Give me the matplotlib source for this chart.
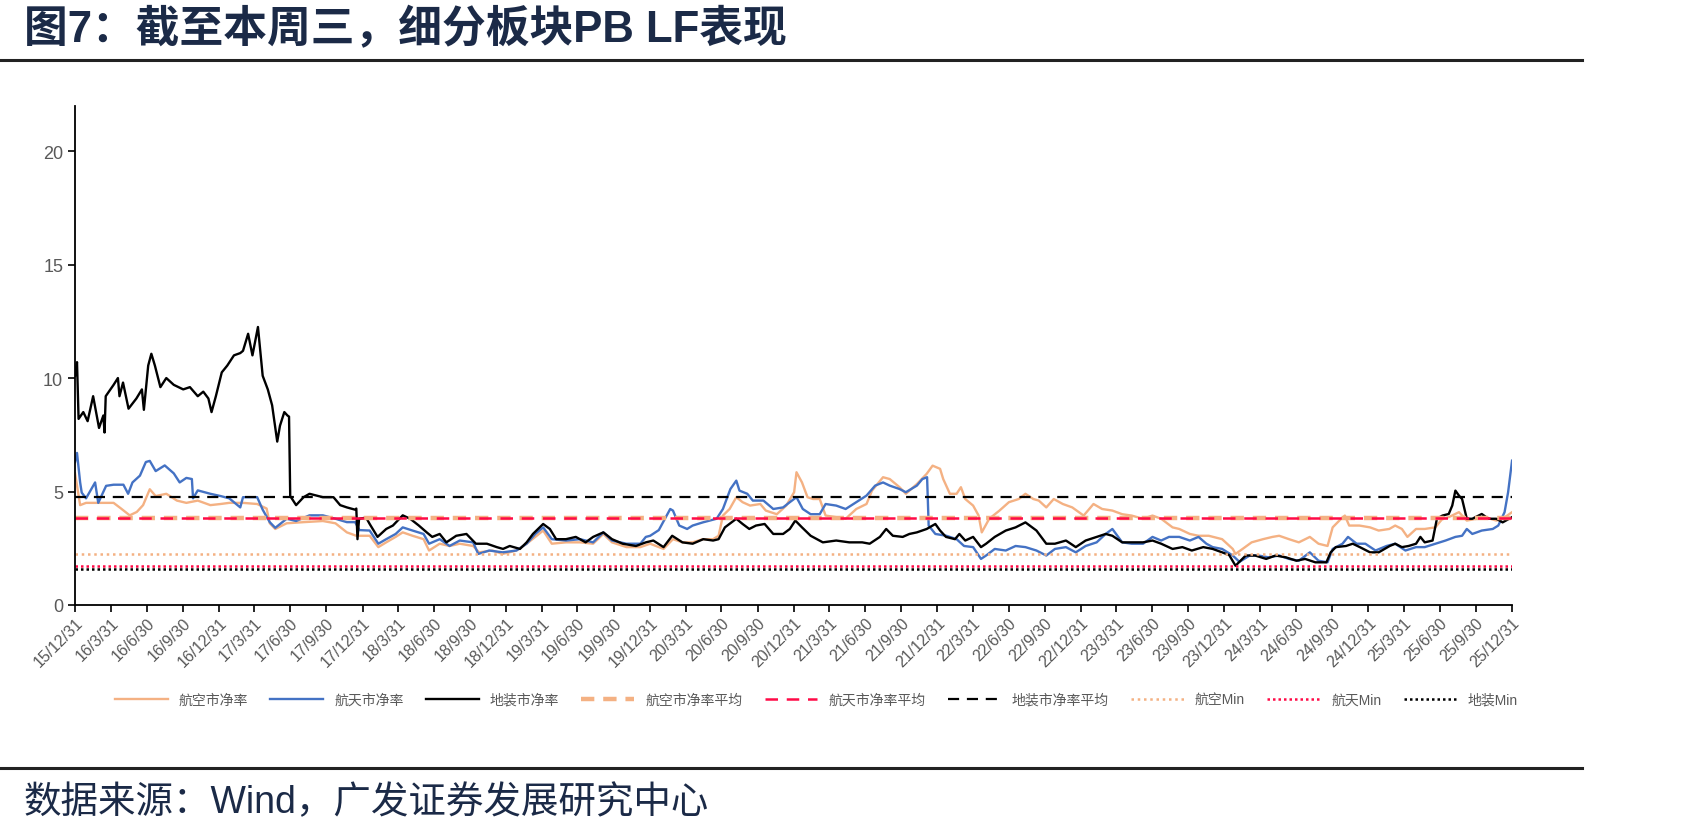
import pandas as pd
import numpy as np
import matplotlib.pyplot as plt
import matplotlib.dates as mdates

plt.rcParams['font.family'] = ['Liberation Sans', 'Noto Sans CJK SC', 'DejaVu Sans']

# ---- data ----
air_dates = ["2015-12-31", "2016-01-13", "2016-01-28", "2016-02-23", "2016-03-12", "2016-04-07", "2016-04-26",
             "2016-05-18", "2016-06-05", "2016-06-21", "2016-07-08", "2016-07-23", "2016-08-19", "2016-09-15",
             "2016-10-09", "2016-11-07", "2016-12-09", "2017-01-04", "2017-01-26", "2017-03-02", "2017-04-07",
             "2017-05-01", "2017-05-09", "2017-05-23", "2017-06-21", "2017-08-03", "2017-09-21", "2017-10-23",
             "2017-11-21", "2017-12-15", "2018-01-18", "2018-02-09", "2018-03-01", "2018-03-25", "2018-04-12",
             "2018-05-07", "2018-06-04", "2018-06-18", "2018-07-15", "2018-08-09", "2018-09-04", "2018-10-08",
             "2018-10-23", "2018-11-26", "2018-12-22", "2019-01-26", "2019-02-21", "2019-03-15", "2019-04-04",
             "2019-04-26", "2019-06-01", "2019-07-07", "2019-08-09", "2019-09-04", "2019-09-26", "2019-11-02",
             "2019-12-07", "2020-01-01", "2020-02-04", "2020-02-28", "2020-03-23", "2020-04-18", "2020-05-14",
             "2020-06-09", "2020-06-23", "2020-07-04", "2020-07-21", "2020-08-07", "2020-08-23", "2020-09-11",
             "2020-10-07", "2020-10-21", "2020-11-18", "2020-12-12", "2021-01-01", "2021-01-07", "2021-01-21",
             "2021-02-04", "2021-02-18", "2021-03-07", "2021-03-22", "2021-04-18", "2021-05-12", "2021-06-08",
             "2021-07-04", "2021-07-18", "2021-08-15", "2021-09-01", "2021-09-26", "2021-10-12", "2021-11-09",
             "2021-12-04", "2021-12-19", "2022-01-07", "2022-01-15", "2022-02-01", "2022-02-18", "2022-03-01",
             "2022-03-12", "2022-04-01", "2022-04-15", "2022-04-23", "2022-05-12", "2022-06-07", "2022-07-01",
             "2022-07-26", "2022-08-12", "2022-09-01", "2022-09-15", "2022-10-04", "2022-10-23", "2022-11-15",
             "2022-12-09", "2023-01-07", "2023-02-01", "2023-02-23", "2023-03-21", "2023-04-15", "2023-05-09",
             "2023-06-07", "2023-07-01", "2023-07-23", "2023-08-21", "2023-09-07", "2023-10-04", "2023-10-26",
             "2023-11-21", "2023-12-25", "2024-01-21", "2024-01-28", "2024-02-15", "2024-03-09", "2024-04-07",
             "2024-05-01", "2024-05-18", "2024-06-12", "2024-07-07", "2024-08-04", "2024-08-26", "2024-09-18",
             "2024-10-01", "2024-10-18", "2024-11-01", "2024-11-12", "2024-12-08", "2025-01-04", "2025-01-26",
             "2025-02-22", "2025-03-09", "2025-03-26", "2025-04-09", "2025-05-01", "2025-05-23", "2025-06-19",
             "2025-07-07", "2025-07-23", "2025-08-18", "2025-09-07", "2025-10-01", "2025-10-23", "2025-11-21",
             "2025-12-07", "2025-12-31"]
air_pb = [5.8, 4.4, 4.5, 4.5, 4.5, 4.5, 4.25, 3.95, 4.1, 4.4, 5.1, 4.8, 4.9, 4.6, 4.5, 4.6, 4.4, 4.45, 4.5, 4.5,
          4.45, 4.25, 3.6, 3.35, 3.6, 3.65, 3.7, 3.6, 3.2, 3.05, 3.05, 2.55, 2.76, 3.0, 3.2, 3.05, 2.9, 2.4, 2.7,
          2.6, 2.7, 2.6, 2.32, 2.4, 2.25, 2.4, 2.7, 3.0, 3.28, 2.7, 2.76, 2.76, 2.7, 3.13, 2.76, 2.55, 2.55, 2.7,
          2.47, 2.9, 2.76, 2.76, 2.9, 2.9, 3.05, 3.94, 4.23, 4.75, 4.53, 4.38, 4.45, 4.16, 4.0, 4.38, 4.97, 5.85,
          5.4, 4.75, 4.67, 4.67, 3.94, 3.87, 3.8, 4.23, 4.45, 5.04, 5.63, 5.55, 5.19, 4.9, 5.33, 5.78, 6.14, 6.0,
          5.55, 4.9, 4.9, 5.19, 4.67, 4.38, 3.94, 3.2, 3.8, 4.16, 4.53, 4.67, 4.9, 4.67, 4.6, 4.3, 4.67, 4.45, 4.3,
          3.94, 4.45, 4.23, 4.16, 4.0, 3.94, 3.8, 3.94, 3.8, 3.42, 3.35, 3.13, 3.05, 3.05, 2.9, 2.47, 2.25, 2.47,
          2.76, 2.9, 3.0, 3.05, 2.9, 2.76, 3.0, 2.7, 2.6, 3.42, 3.72, 3.94, 3.5, 3.5, 3.42, 3.28, 3.35, 3.5, 3.35,
          3.0, 3.35, 3.35, 3.42, 3.8, 3.87, 4.09, 3.72, 3.8, 3.87, 3.72, 3.8, 4.09]

space_dates = ["2015-12-31", "2016-01-05", "2016-01-13", "2016-01-17", "2016-01-28", "2016-02-20", "2016-02-28",
               "2016-03-19", "2016-04-07", "2016-05-02", "2016-05-14", "2016-05-25", "2016-06-13", "2016-06-28",
               "2016-07-08", "2016-07-23", "2016-08-15", "2016-09-07", "2016-09-22", "2016-10-09", "2016-10-23",
               "2016-10-26", "2016-11-07", "2016-12-09", "2017-01-04", "2017-01-26", "2017-02-23", "2017-03-02",
               "2017-04-07", "2017-04-21", "2017-05-09", "2017-05-23", "2017-06-21", "2017-07-15", "2017-08-18",
               "2017-09-21", "2017-10-23", "2017-11-21", "2017-12-12", "2017-12-23", "2018-01-18", "2018-02-09",
               "2018-03-01", "2018-03-25", "2018-04-12", "2018-05-07", "2018-06-04", "2018-06-18", "2018-07-15",
               "2018-08-09", "2018-09-04", "2018-10-08", "2018-10-21", "2018-11-18", "2018-12-22", "2019-01-26",
               "2019-02-21", "2019-03-15", "2019-04-04", "2019-04-26", "2019-06-01", "2019-07-07", "2019-08-09",
               "2019-09-04", "2019-09-26", "2019-11-02", "2019-12-07", "2019-12-21", "2020-01-01", "2020-01-23",
               "2020-02-21", "2020-02-28", "2020-03-15", "2020-04-04", "2020-04-18", "2020-05-14", "2020-06-01",
               "2020-06-18", "2020-07-04", "2020-07-23", "2020-08-07", "2020-08-15", "2020-09-04", "2020-09-18",
               "2020-10-15", "2020-11-09", "2020-12-04", "2020-12-21", "2021-01-07", "2021-01-23", "2021-02-12",
               "2021-03-07", "2021-03-22", "2021-04-18", "2021-05-12", "2021-06-08", "2021-07-04", "2021-07-26",
               "2021-08-15", "2021-09-01", "2021-09-26", "2021-10-12", "2021-11-09", "2021-11-23", "2021-12-05",
               "2021-12-09", "2021-12-26", "2022-01-23", "2022-02-18", "2022-03-09", "2022-04-01", "2022-04-21",
               "2022-05-04", "2022-05-26", "2022-06-23", "2022-07-18", "2022-08-12", "2022-09-09", "2022-10-04",
               "2022-10-26", "2022-11-23", "2022-12-18", "2023-01-12", "2023-02-09", "2023-03-04", "2023-03-21",
               "2023-04-15", "2023-05-09", "2023-06-07", "2023-07-01", "2023-07-23", "2023-08-12", "2023-09-07",
               "2023-10-04", "2023-10-26", "2023-11-15", "2023-12-01", "2023-12-25", "2024-01-21", "2024-02-07",
               "2024-03-04", "2024-03-26", "2024-04-21", "2024-05-18", "2024-06-12", "2024-07-07", "2024-08-04",
               "2024-08-26", "2024-09-18", "2024-10-01", "2024-10-26", "2024-11-09", "2024-12-01", "2024-12-23",
               "2025-01-18", "2025-02-15", "2025-03-09", "2025-04-04", "2025-05-01", "2025-05-23", "2025-06-19",
               "2025-07-15", "2025-08-09", "2025-08-26", "2025-09-07", "2025-09-21", "2025-10-15", "2025-11-12",
               "2025-11-26", "2025-12-12", "2025-12-21", "2025-12-31"]
space_pb = [6.3, 6.7, 5.4, 4.95, 4.7, 5.4, 4.5, 5.25, 5.3, 5.3, 4.9, 5.4, 5.7, 6.3, 6.35, 5.9, 6.15, 5.8, 5.4, 5.6,
            5.55, 4.7, 5.05, 4.9, 4.8, 4.7, 4.3, 4.75, 4.75, 4.2, 3.65, 3.4, 3.8, 3.7, 3.95, 3.95, 3.8, 3.65, 3.65,
            3.3, 3.28, 2.7, 2.9, 3.13, 3.42, 3.28, 3.13, 2.7, 2.9, 2.6, 2.84, 2.76, 2.25, 2.4, 2.32, 2.4, 2.7, 3.13,
            3.42, 2.9, 2.84, 2.9, 2.76, 3.2, 2.84, 2.7, 2.7, 3.0, 3.05, 3.3, 4.23, 4.16, 3.5, 3.35, 3.5, 3.64, 3.72,
            3.8, 4.23, 5.11, 5.48, 5.04, 4.9, 4.6, 4.6, 4.23, 4.3, 4.53, 4.75, 4.23, 4.0, 4.0, 4.45, 4.38, 4.23,
            4.53, 4.82, 5.26, 5.4, 5.26, 5.11, 4.97, 5.26, 5.55, 5.63, 3.5, 3.13, 3.05, 2.9, 2.6, 2.55, 2.03, 2.18,
            2.47, 2.4, 2.6, 2.55, 2.4, 2.18, 2.47, 2.55, 2.32, 2.6, 2.76, 3.13, 3.35, 2.76, 2.7, 2.7, 3.0, 2.84,
            3.0, 3.0, 2.84, 3.0, 2.7, 2.55, 2.47, 2.18, 1.9, 2.18, 2.18, 2.1, 2.18, 2.03, 1.95, 2.32, 1.95, 1.88,
            2.47, 2.7, 3.0, 2.7, 2.7, 2.4, 2.6, 2.7, 2.4, 2.55, 2.55, 2.7, 2.84, 3.0, 3.05, 3.35, 3.13, 3.28, 3.35,
            3.5, 4.09, 4.97, 6.36]

dz_dates = ["2015-12-31", "2016-01-05", "2016-01-09", "2016-01-21", "2016-02-01", "2016-02-15", "2016-03-01",
            "2016-03-12", "2016-03-15", "2016-03-18", "2016-04-07", "2016-04-18", "2016-04-22", "2016-05-01",
            "2016-05-15", "2016-06-04", "2016-06-18", "2016-06-23", "2016-07-04", "2016-07-12", "2016-07-21",
            "2016-08-04", "2016-08-19", "2016-09-07", "2016-10-01", "2016-10-18", "2016-11-07", "2016-11-21",
            "2016-12-04", "2016-12-12", "2016-12-23", "2017-01-07", "2017-01-21", "2017-02-07", "2017-02-23",
            "2017-03-02", "2017-03-15", "2017-03-26", "2017-04-09", "2017-04-21", "2017-05-04", "2017-05-15",
            "2017-05-28", "2017-06-04", "2017-06-15", "2017-06-23", "2017-06-27", "2017-06-30", "2017-07-15",
            "2017-08-03", "2017-08-18", "2017-09-21", "2017-10-18", "2017-11-04", "2017-11-21", "2017-12-12",
            "2017-12-15", "2017-12-18", "2017-12-22", "2018-01-09", "2018-01-18", "2018-02-07", "2018-03-01",
            "2018-03-18", "2018-04-12", "2018-05-01", "2018-05-23", "2018-06-12", "2018-06-26", "2018-07-15",
            "2018-08-01", "2018-08-26", "2018-09-21", "2018-10-15", "2018-11-12", "2018-12-07", "2018-12-23",
            "2019-01-09", "2019-02-04", "2019-02-21", "2019-03-09", "2019-04-04", "2019-04-21", "2019-05-07",
            "2019-06-01", "2019-06-26", "2019-07-21", "2019-08-09", "2019-09-04", "2019-09-26", "2019-10-23",
            "2019-11-26", "2019-12-21", "2020-01-09", "2020-02-04", "2020-02-26", "2020-03-23", "2020-04-18",
            "2020-05-15", "2020-06-09", "2020-06-23", "2020-07-09", "2020-08-07", "2020-08-23", "2020-09-09",
            "2020-09-26", "2020-10-18", "2020-11-09", "2020-12-04", "2020-12-21", "2021-01-04", "2021-01-21",
            "2021-02-12", "2021-03-15", "2021-04-18", "2021-05-21", "2021-06-23", "2021-07-12", "2021-08-07",
            "2021-08-23", "2021-09-09", "2021-10-04", "2021-10-21", "2021-11-09", "2021-12-04", "2021-12-26",
            "2022-01-07", "2022-01-22", "2022-02-14", "2022-02-25", "2022-03-12", "2022-04-01", "2022-04-21",
            "2022-05-04", "2022-05-26", "2022-06-23", "2022-07-18", "2022-08-12", "2022-09-09", "2022-10-04",
            "2022-10-26", "2022-11-23", "2022-12-18", "2023-01-12", "2023-02-09", "2023-03-04", "2023-03-21",
            "2023-04-15", "2023-05-09", "2023-06-07", "2023-07-01", "2023-07-23", "2023-08-21", "2023-09-15",
            "2023-10-09", "2023-11-07", "2023-12-01", "2023-12-25", "2024-01-12", "2024-01-28", "2024-02-23",
            "2024-03-18", "2024-04-15", "2024-05-09", "2024-06-04", "2024-07-01", "2024-07-23", "2024-08-18",
            "2024-09-15", "2024-09-26", "2024-10-09", "2024-11-04", "2024-11-21", "2024-12-09", "2025-01-04",
            "2025-01-26", "2025-02-23", "2025-03-09", "2025-03-26", "2025-04-12", "2025-05-01", "2025-05-12",
            "2025-05-23", "2025-06-12", "2025-06-23", "2025-07-07", "2025-07-23", "2025-08-01", "2025-08-09",
            "2025-08-18", "2025-08-26", "2025-09-07", "2025-09-21", "2025-10-15", "2025-11-01", "2025-11-21",
            "2025-12-07", "2025-12-31"]
dz_pb = [10.1, 10.7, 8.2, 8.5, 8.1, 9.2, 7.8, 8.35, 7.6, 9.2, 9.7, 10.0, 9.2, 9.8, 8.65, 9.1, 9.5, 8.6, 10.55,
         11.07, 10.55, 9.6, 10.0, 9.7, 9.5, 9.6, 9.2, 9.4, 9.1, 8.5, 9.2, 10.25, 10.55, 11.0, 11.1, 11.2, 11.95,
         11.0, 12.25, 10.1, 9.5, 8.8, 7.2, 7.9, 8.5, 8.35, 8.3, 4.8, 4.4, 4.75, 4.9, 4.75, 4.75, 4.4, 4.3, 4.2,
         4.25, 2.9, 3.8, 3.85, 3.57, 3.0, 3.35, 3.5, 3.95, 3.8, 3.5, 3.2, 3.0, 3.13, 2.76, 3.05, 3.13, 2.7, 2.7,
         2.55, 2.47, 2.6, 2.47, 2.76, 3.13, 3.57, 3.35, 2.9, 2.9, 3.0, 2.76, 3.0, 3.2, 2.9, 2.7, 2.6, 2.76, 2.84,
         2.55, 3.05, 2.76, 2.7, 2.9, 2.84, 2.9, 3.42, 3.8, 3.57, 3.35, 3.5, 3.57, 3.13, 3.13, 3.35, 3.72, 3.42,
         3.05, 2.76, 2.84, 2.76, 2.76, 2.7, 3.0, 3.35, 3.05, 3.0, 3.13, 3.2, 3.35, 3.57, 3.28, 3.0, 2.9, 3.13,
         2.84, 3.0, 2.55, 2.7, 3.0, 3.28, 3.42, 3.64, 3.28, 2.7, 2.7, 2.84, 2.55, 2.84, 3.0, 3.13, 3.05, 2.76,
         2.76, 2.76, 2.84, 2.7, 2.47, 2.55, 2.4, 2.55, 2.47, 2.32, 2.2, 1.73, 2.18, 2.18, 2.03, 2.18, 2.1, 1.95,
         2.03, 1.88, 1.88, 2.32, 2.55, 2.6, 2.7, 2.55, 2.32, 2.32, 2.6, 2.7, 2.55, 2.6, 2.7, 3.0, 2.76, 2.84, 3.8,
         3.94, 4.01, 4.38, 5.04, 4.82, 4.67, 3.8, 3.8, 4.01, 3.8, 3.8, 3.64, 3.87]

air_mean, space_mean, dz_mean = 3.82, 3.84, 4.76
air_min, space_min, dz_min = 2.25, 1.73, 1.60

labels = ["航空市净率", "航天市净率", "地装市净率", "航空市净率平均", "航天市净率平均",
          "地装市净率平均", "航空Min", "航天Min", "地装Min"]

orange, blue, red = "#F4B183", "#4472C4", "#FF0A47"
navy = "#1B2A47"

fig = plt.figure(figsize=(16.9, 8.37), dpi=100)
ax = fig.add_axes([0.0444, 0.276, 0.8503, 0.5965])

air_x = pd.to_datetime(air_dates)
space_x = pd.to_datetime(space_dates)
dz_x = pd.to_datetime(dz_dates)
start, end = pd.Timestamp("2015-12-31"), pd.Timestamp("2025-12-31")

h = []
h += ax.plot(air_x, air_pb, color=orange, lw=1.7)
h += ax.plot(space_x, space_pb, color=blue, lw=1.7)
h += ax.plot(dz_x, dz_pb, color="black", lw=1.7)
h += ax.plot([start, end], [air_mean] * 2, color=orange, lw=3.2, ls=(0, (3, 2)))
h += ax.plot([start, end], [space_mean] * 2, color=red, lw=1.8, ls=(0, (5, 3.5)))
h += ax.plot([start, end], [dz_mean] * 2, color="black", lw=1.6, ls=(0, (5, 3.5)))
h += ax.plot([start, end], [air_min] * 2, color=orange, lw=1.8, ls=(0, (1, 1.5)))
h += ax.plot([start, end], [space_min] * 2, color=red, lw=1.8, ls=(0, (1, 1.2)))
h += ax.plot([start, end], [dz_min] * 2, color="black", lw=1.8, ls=(0, (1, 1.2)))

ax.set_xlim(start, end)
ax.set_ylim(0, 22)
ax.set_yticks([0, 5, 10, 15, 20])
qt = pd.date_range(start, end, freq="QE")
ax.set_xticks(qt)
ax.set_xticklabels([f"{d.year % 100}/{d.month}/{d.day}" for d in qt], rotation=45,
                   ha="right", rotation_mode="anchor")
ax.tick_params(axis="both", colors="#595959", length=5, width=1.2)
ax.tick_params(axis="y", labelsize=13)
ax.tick_params(axis="x", labelsize=11.5, pad=2)
ax.tick_params(axis="both", color="black")
for s in ["top", "right"]:
    ax.spines[s].set_visible(False)
for s in ["left", "bottom"]:
    ax.spines[s].set_linewidth(1.3)

fig.legend(h, labels, loc="center", bbox_to_anchor=(0.483, 0.163), ncol=9, frameon=False,
           fontsize=10, handlelength=3.8, columnspacing=1.6, labelcolor="#595959")

# title, rules and source
fig.text(0.014, 0.965, "图7：截至本周三，细分板块PB LF表现", fontsize=31.5, fontweight="bold",
         color=navy, va="center", ha="left")
fig.add_artist(plt.Line2D([0, 0.936], [0.927, 0.927], color="#222222", lw=2.2))
fig.add_artist(plt.Line2D([0, 0.936], [0.081, 0.081], color="#222222", lw=2.2))
fig.text(0.014, 0.04, "数据来源：Wind，广发证券发展研究中心", fontsize=27, color=navy,
         va="center", ha="left")

fig.savefig("out.png", dpi=100)
